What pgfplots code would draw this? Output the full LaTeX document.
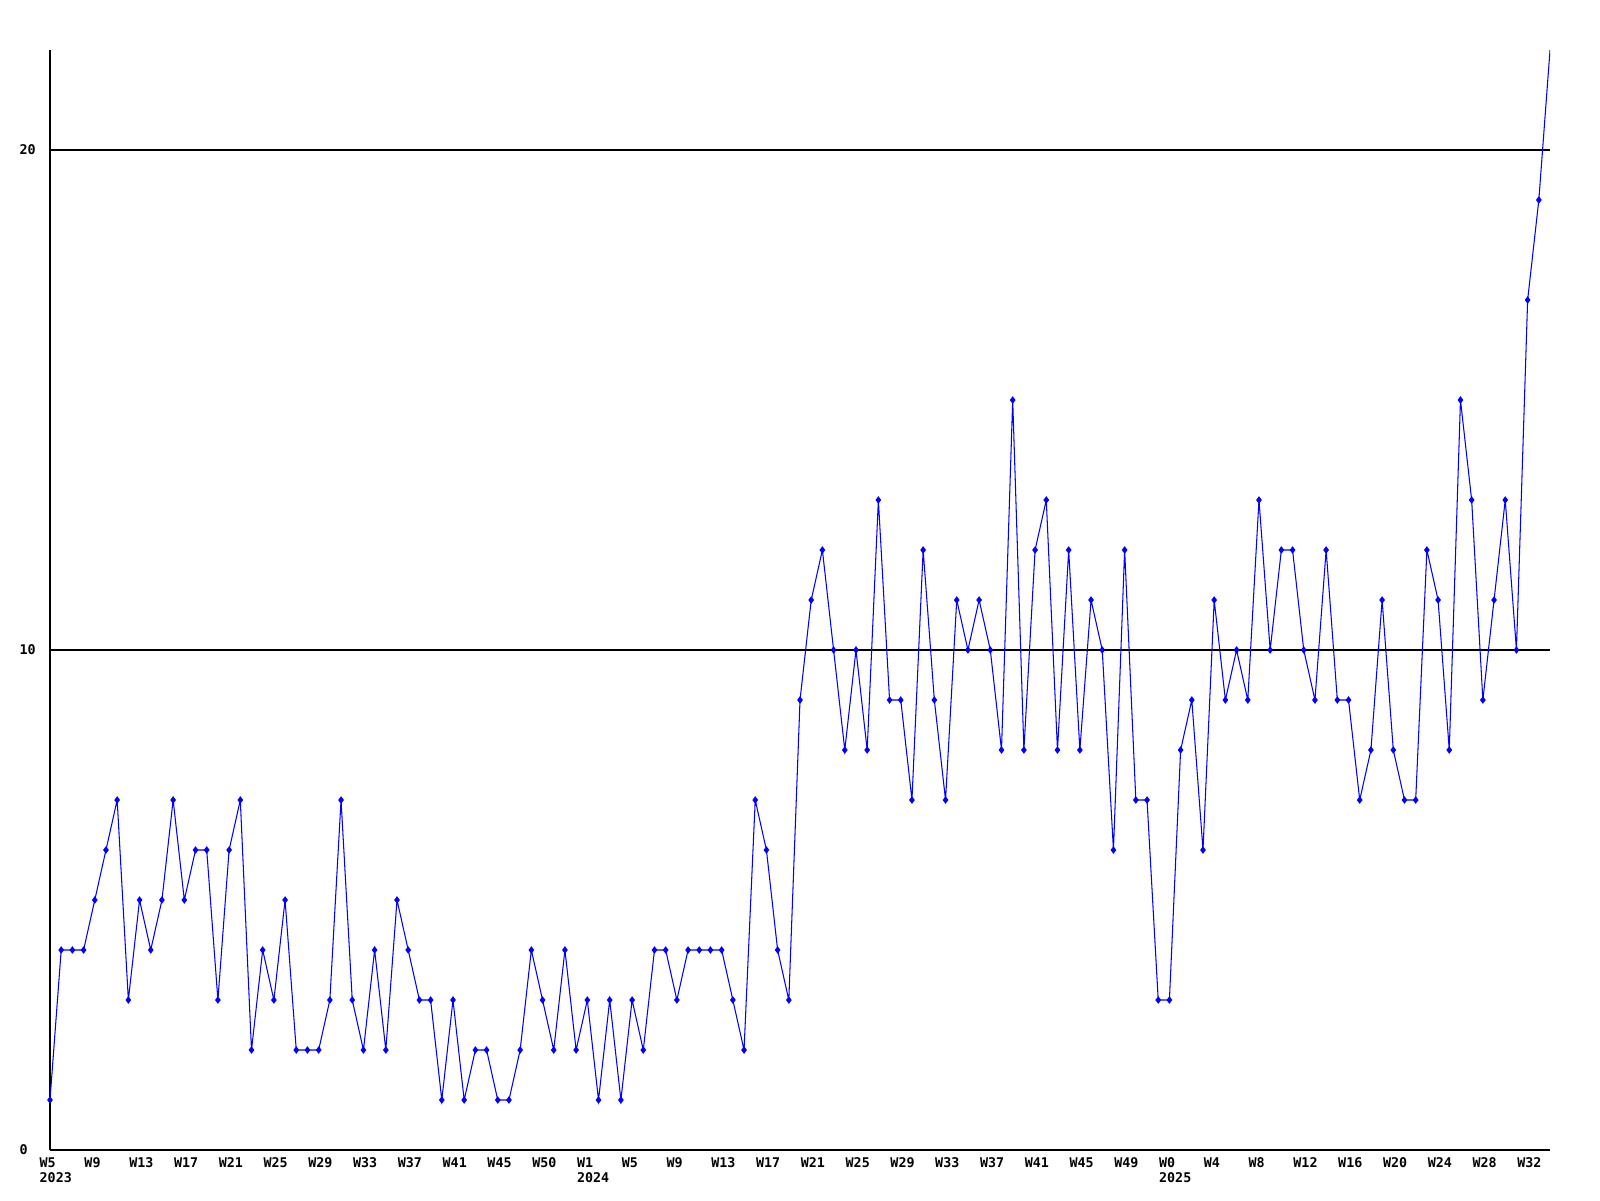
\documentclass[border=0pt]{standalone}
\usepackage{fontspec}
\usepackage{pgfplots}
\pgfplotsset{compat=1.18}
\usepackage{pgfplotstable}
\newfontfamily\chartfont{DejaVu Sans Mono}
\definecolor{lineblue}{RGB}{0,0,255}

% weekly counts, index 0 = W5 2023
\pgfplotstableread[row sep=\\]{
idx val \\
0 1 \\ 1 4 \\ 2 4 \\ 3 4 \\ 4 5 \\ 5 6 \\ 6 7 \\ 7 3 \\ 8 5 \\ 9 4 \\
10 5 \\ 11 7 \\ 12 5 \\ 13 6 \\ 14 6 \\ 15 3 \\ 16 6 \\ 17 7 \\ 18 2 \\ 19 4 \\
20 3 \\ 21 5 \\ 22 2 \\ 23 2 \\ 24 2 \\ 25 3 \\ 26 7 \\ 27 3 \\ 28 2 \\ 29 4 \\
30 2 \\ 31 5 \\ 32 4 \\ 33 3 \\ 34 3 \\ 35 1 \\ 36 3 \\ 37 1 \\ 38 2 \\ 39 2 \\
40 1 \\ 41 1 \\ 42 2 \\ 43 4 \\ 44 3 \\ 45 2 \\ 46 4 \\ 47 2 \\ 48 3 \\ 49 1 \\
50 3 \\ 51 1 \\ 52 3 \\ 53 2 \\ 54 4 \\ 55 4 \\ 56 3 \\ 57 4 \\ 58 4 \\ 59 4 \\
60 4 \\ 61 3 \\ 62 2 \\ 63 7 \\ 64 6 \\ 65 4 \\ 66 3 \\ 67 9 \\ 68 11 \\ 69 12 \\
70 10 \\ 71 8 \\ 72 10 \\ 73 8 \\ 74 13 \\ 75 9 \\ 76 9 \\ 77 7 \\ 78 12 \\ 79 9 \\
80 7 \\ 81 11 \\ 82 10 \\ 83 11 \\ 84 10 \\ 85 8 \\ 86 15 \\ 87 8 \\ 88 12 \\ 89 13 \\
90 8 \\ 91 12 \\ 92 8 \\ 93 11 \\ 94 10 \\ 95 6 \\ 96 12 \\ 97 7 \\ 98 7 \\ 99 3 \\
100 3 \\ 101 8 \\ 102 9 \\ 103 6 \\ 104 11 \\ 105 9 \\ 106 10 \\ 107 9 \\ 108 13 \\ 109 10 \\
110 12 \\ 111 12 \\ 112 10 \\ 113 9 \\ 114 12 \\ 115 9 \\ 116 9 \\ 117 7 \\ 118 8 \\ 119 11 \\
120 8 \\ 121 7 \\ 122 7 \\ 123 12 \\ 124 11 \\ 125 8 \\ 126 15 \\ 127 13 \\ 128 9 \\ 129 11 \\
130 13 \\ 131 10 \\ 132 17 \\ 133 19 \\ 134 22 \\
}\weekly

\begin{document}
\begin{tikzpicture}
\path[use as bounding box] (-0.5cm,-0.5cm) rectangle (15.5cm,11.5cm);
\begin{axis}[
    scale only axis,
    width=15cm, height=11cm,
    xmin=0, xmax=134,
    ymin=0, ymax=22,
    axis x line*=bottom,
    axis y line*=left,
    axis line style={black, line width=0.3pt, -},
    major tick length=0pt,
    ytick={0,10,20},
    yticklabels={0,10,20},
    ymajorgrids,
    grid style={black, line width=0.3pt},
    xtick={0,4,...,132},
    xticklabels={{W5\\2023},W9,W13,W17,W21,W25,W29,W33,W37,W41,W45,W50,
        {W1\\2024},W5,W9,W13,W17,W21,W25,W29,W33,W37,W41,W45,W49,
        {W0\\2025},W4,W8,W12,W16,W20,W24,W28,W32},
    xticklabel style={align=left, anchor=north west, inner sep=0pt,
        xshift=-0.11cm, yshift=-0.07cm,
        font=\chartfont\bfseries\fontsize{3.8}{4.3}\selectfont},
    yticklabel style={anchor=west, inner sep=0pt, xshift=-0.31cm,
        font=\chartfont\bfseries\fontsize{3.8}{4.3}\selectfont},
]
\addplot[lineblue, line width=0.3pt, no marks] table[x=idx, y=val] {\weekly};
\addplot[lineblue, only marks, mark=diamond*, mark size=0.75pt,
    skip coords between index={134}{135}] table[x=idx, y=val] {\weekly};
\end{axis}
\end{tikzpicture}
\end{document}
